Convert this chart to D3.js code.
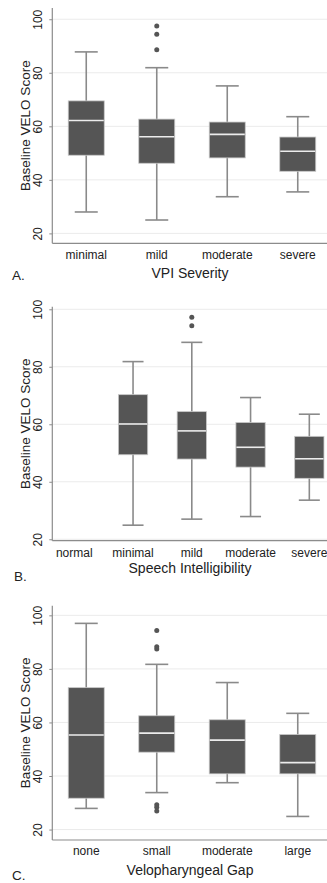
<!DOCTYPE html>
<html lang="en">
<head>
<meta charset="UTF-8">
<title>Baseline VELO Score box plots</title>
<style>
  body { margin: 0; background: #fff; font-family: "Liberation Sans", Arial, sans-serif; }
  svg { display: block; }
  .grid line { stroke: #ebebeb; stroke-width: 1; }
  .axis-line { stroke: #8c8c8c; stroke-width: 1.2; }
  .whisker { stroke: #8a8a8a; stroke-width: 1.6; }
  .box { fill: #555555; stroke: #c8c8c8; stroke-width: 0.8; }
  .median { stroke: #ececec; stroke-width: 1.6; }
  .outlier { fill: #555555; }
  text { fill: #222; }
</style>
</head>
<body>
<svg id="chart" width="327" height="883"></svg>
<script src="https://d3js.org/d3.v7.min.js"></script>
<script>
// [lower whisker, Q1, median, Q3, upper whisker]
const catsA = ['minimal', 'mild', 'moderate', 'severe'];
const statsA = [
  [28.0, 49.2, 62.2, 69.5, 87.8],
  [25.0, 46.2, 56.1, 62.7, 81.9],
  [33.7, 48.2, 57.0, 61.6, 75.1],
  [35.5, 43.2, 50.7, 56.0, 63.6]
];
const outliersA = [[], [97.5, 94.4, 88.6], [], []];

const catsB = ['normal', 'minimal', 'mild', 'moderate', 'severe'];
const statsB = [
  null,
  [24.9, 49.4, 60.1, 70.3, 81.8],
  [27.0, 47.9, 57.7, 64.4, 88.5],
  [27.9, 45.1, 52.0, 60.6, 69.3],
  [33.6, 41.2, 48.0, 55.8, 63.5]
];
const outliersB = [[], [], [97.2, 94.3], [], []];

const catsC = ['none', 'small', 'moderate', 'large'];
const statsC = [
  [27.9, 31.7, 55.3, 73.0, 97.0],
  [33.8, 48.9, 56.0, 62.5, 81.7],
  [37.5, 40.8, 53.4, 61.0, 74.9],
  [24.9, 40.8, 45.0, 55.5, 63.4]
];
const outliersC = [[], [94.3, 88.3, 87.4, 29.3, 28.3, 26.9], [], []];

const yTicks = [20, 40, 60, 80, 100];
const yTitle = 'Baseline VELO Score';

const panels = [
  { cats: catsA, stats: statsA, outliers: outliersA, xTitle: 'VPI Severity', tag: 'A.',
    xRange: [51, 333], yDomain: [16.3, 104.2], top: 8, bottom: 243.3, boxW: 36, capW: 23,
    tickY: 255, titleY: 273, tagY: 275, tagX: 12 },
  { cats: catsB, stats: statsB, outliers: outliersB, xTitle: 'Speech Intelligibility', tag: 'B.',
    xRange: [44.9, 338.7], yDomain: [19.5, 100.9], top: 306.7, bottom: 540.7, boxW: 29.3, capW: 21,
    tickY: 552.7, titleY: 568, tagY: 576, tagX: 14 },
  { cats: catsC, stats: statsC, outliers: outliersC, xTitle: 'Velopharyngeal Gap', tag: 'C.',
    xRange: [51, 333], yDomain: [16.1, 103.6], top: 605.7, bottom: 840, boxW: 36, capW: 23,
    tickY: 851, titleY: 870, tagY: 875, tagX: 12 }
];

const svg = d3.select('#chart');
const axisX = 52.3;
const rightEdge = 327;

panels.forEach(p => {
  const g = svg.append('g');
  const x = d3.scaleBand().domain(p.cats).range(p.xRange);
  const y = d3.scaleLinear().domain(p.yDomain).range([p.bottom, p.top]);
  const cx = c => x(c) + x.bandwidth() / 2;

  // gridlines
  g.append('g').attr('class', 'grid')
    .selectAll('line').data(yTicks).enter().append('line')
    .attr('x1', axisX).attr('x2', rightEdge)
    .attr('y1', d => y(d)).attr('y2', d => y(d));

  // y axis
  const yAxis = d3.axisLeft(y).tickValues(yTicks).tickSize(3).tickFormat(d3.format('d'));
  const ya = g.append('g').attr('transform', `translate(${axisX},0)`).call(yAxis);
  ya.select('.domain').remove();
  ya.selectAll('.tick line').attr('stroke', '#8c8c8c');
  ya.selectAll('.tick text')
    .attr('x', null).attr('dy', null)
    .attr('transform', 'translate(-14,0) rotate(-90)')
    .attr('text-anchor', 'middle')
    .attr('dominant-baseline', 'central')
    .attr('font-size', 12)
    .attr('font-family', '"Liberation Sans", Arial, sans-serif')
    .attr('fill', '#222');

  // axis lines
  g.append('line').attr('class', 'axis-line')
    .attr('x1', axisX).attr('x2', axisX).attr('y1', p.top).attr('y2', p.bottom);
  g.append('line').attr('class', 'axis-line')
    .attr('x1', axisX).attr('x2', rightEdge).attr('y1', p.bottom).attr('y2', p.bottom);

  const boxes = p.cats.map((c, i) => ({ cat: c, s: p.stats[i], out: p.outliers[i] }));

  const b = g.selectAll('.bx').data(boxes.filter(d => d.s)).enter().append('g');
  // whiskers
  b.append('line').attr('class', 'whisker')
    .attr('x1', d => cx(d.cat)).attr('x2', d => cx(d.cat))
    .attr('y1', d => y(d.s[0])).attr('y2', d => y(d.s[4]));
  b.selectAll('.cap').data(d => [[d.cat, d.s[0]], [d.cat, d.s[4]]]).enter().append('line')
    .attr('class', 'whisker')
    .attr('x1', d => cx(d[0]) - p.capW / 2).attr('x2', d => cx(d[0]) + p.capW / 2)
    .attr('y1', d => y(d[1])).attr('y2', d => y(d[1]));
  // box
  b.append('rect').attr('class', 'box')
    .attr('x', d => cx(d.cat) - p.boxW / 2).attr('width', p.boxW)
    .attr('y', d => y(d.s[3])).attr('height', d => y(d.s[1]) - y(d.s[3]));
  b.append('line').attr('class', 'median')
    .attr('x1', d => cx(d.cat) - p.boxW / 2 + 0.5).attr('x2', d => cx(d.cat) + p.boxW / 2 - 0.5)
    .attr('y1', d => y(d.s[2])).attr('y2', d => y(d.s[2]));

  // outliers
  g.selectAll('.out').data(boxes.flatMap(d => d.out.map(v => [d.cat, v]))).enter().append('circle')
    .attr('class', 'outlier').attr('r', 2.5)
    .attr('cx', d => cx(d[0])).attr('cy', d => y(d[1]));

  // category labels
  g.selectAll('.cl').data(p.cats).enter().append('text')
    .attr('x', d => cx(d)).attr('y', p.tickY)
    .attr('text-anchor', 'middle').attr('dominant-baseline', 'central')
    .attr('font-size', 12).text(d => d);

  // titles
  g.append('text').attr('x', 190).attr('y', p.titleY)
    .attr('text-anchor', 'middle').attr('dominant-baseline', 'central')
    .attr('font-size', 14).text(p.xTitle);
  g.append('text')
    .attr('transform', `translate(25,${(p.top + p.bottom) / 2}) rotate(-90)`)
    .attr('text-anchor', 'middle').attr('dominant-baseline', 'central')
    .attr('font-size', 13.5).text(yTitle);
  g.append('text').attr('x', p.tagX).attr('y', p.tagY)
    .attr('dominant-baseline', 'central')
    .attr('font-size', 13.5).text(p.tag);
});
</script>
</body>
</html>
